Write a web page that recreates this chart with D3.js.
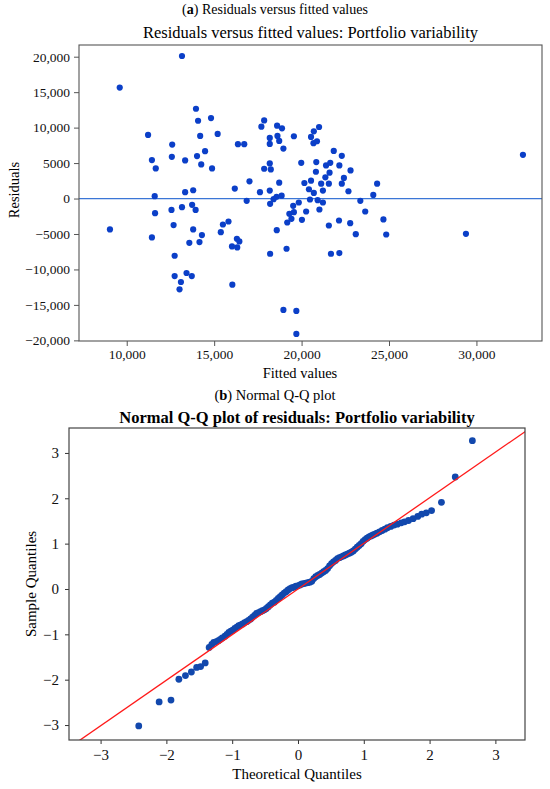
<!DOCTYPE html>
<html>
<head>
<meta charset="utf-8">
<script src="https://cdn.jsdelivr.net/npm/d3@7"></script>
<style>
    body { margin: 0; background: #ffffff; }
    svg { display: block; font-family: "Liberation Serif", "Times New Roman", serif; }
</style>
</head>
<body>
<svg width="550" height="789"></svg>
<script>
// Datos del panel (a): valores ajustados y residuos
const fittedValues = [
    13160, 9600, 11220, 11440, 11660, 11600, 12580, 12600, 13340, 13340,
    13800, 13960, 14080, 14200, 14020, 14260, 14480, 14820, 14880, 15200,
    16180, 16360, 16720, 17020, 17620, 17700, 17860, 17860, 18180, 18180,
    18180, 18240, 18180, 18600, 18620, 18720, 18720, 18880, 18960, 18570,
    18860, 19560, 19980, 20160, 20420, 20540, 20700, 20680, 20880, 21000,
    20540, 20700, 20840, 20820, 21120, 21220, 21400, 21360, 21600, 21640,
    21560, 21840, 22160, 22300, 22300, 22420, 22680, 22800, 24100, 24320,
    32660,
    16860, 11620, 12560, 13160, 13740, 13940, 9040, 11440, 12680, 13800,
    13580, 14160, 14300, 15380, 15500, 15820, 16020, 16300, 16440, 16320,
    12740, 12740, 13420, 13720, 13100, 13020, 16040, 18200, 18400, 18580,
    18200, 19140, 19180, 19300, 19420, 19520, 19560, 19840, 20020, 20260,
    20480, 20920, 21020, 21220, 21560, 21680, 22140, 22160, 22780, 23100,
    23360, 23640, 24680, 24840, 29400, 18960, 19700, 19700
];
const residuals = [
    20100, 15650, 8970, 5420, 4250, 330, 5880, 7610, 5370, 890,
    1170, 12660, 10970, 8830, 5980, 4810, 6680, 11350, 4250, 9110,
    1400, 7660, 7660, 2430, 890, 10130, 11020, 4200, 4950, 7700,
    8550, 4110, 1120, 10270, 8830, 8130, 2240, 9900, 7050, 250,
    400, 8780, 5040, 2190, 1310, 8690, 9480, 7800, 8080, 10090,
    2520, 790, 5140, 3780, 2100, 1120, 4670, 2990, 3640, 5040,
    2100, 6720, 4670, 6020, 2100, 2900, 1030, 3970, 510, 2100,
    6160,
    -330, -2060, -1600, -1220, -890, -1600, -4360, -5490, -3750, -4360,
    -6240, -6140, -5160, -4740, -3660, -3240, -6750, -5670, -6050, -6890,
    -8070, -10930, -10500, -10930, -11770, -12800, -12150, -750, -90, -4460,
    -7790, -7080, -3380, -2160, -2860, -1030, -1920, -560, -3000, -1830,
    -140, -230, -1550, -560, -3800, -7790, -3100, -7690, -3470, -5020,
    -330, -1830, -2950, -5070, -4970, -15710, -15850, -19090
];
const residTicks = [-20000, -15000, -10000, -5000, 0, 5000, 10000, 15000, 20000];
const residTickLabels = ["\u221220,000", "\u221215,000", "\u221210,000", "\u22125000", "0", "5000", "10,000", "15,000", "20,000"];
const fittedTicks = [10000, 15000, 20000, 25000, 30000];
const fittedTickLabels = ["10,000", "15,000", "20,000", "25,000", "30,000"];

// Datos del panel (b): cuantiles teóricos y muestrales
const theoreticalQ = [
    -2.42, -2.11, -1.93, -1.81, -1.71, -1.62, -1.54, -1.48, -1.41, -1.35,
    -1.31, -1.28, -1.24, -1.21, -1.18, -1.15, -1.11, -1.08, -1.05, -1.02,
    -0.99, -0.96, -0.93, -0.90, -0.87, -0.84, -0.81, -0.78, -0.75, -0.72,
    -0.69, -0.66, -0.63, -0.60, -0.57, -0.54, -0.51, -0.48, -0.45, -0.42,
    -0.39, -0.36, -0.33, -0.30, -0.27, -0.24, -0.21, -0.18, -0.15, -0.12,
    -0.09, -0.06, -0.03, 0.00, 0.03, 0.06, 0.09, 0.12, 0.15, 0.18,
    0.21, 0.24, 0.27, 0.30, 0.33, 0.36, 0.39, 0.42, 0.45, 0.48,
    0.51, 0.54, 0.57, 0.60, 0.63, 0.66, 0.69, 0.72, 0.75, 0.78,
    0.81, 0.84, 0.87, 0.90, 0.93, 0.96, 0.99, 1.02, 1.05, 1.08,
    1.11, 1.14, 1.17, 1.20, 1.24, 1.28, 1.32, 1.36, 1.41, 1.46,
    1.51, 1.57, 1.62, 1.68, 1.75, 1.82, 1.88, 1.95, 2.03, 2.18,
    2.39, 2.65
];
const sampleQ = [
    -3.02, -2.49, -2.45, -1.99, -1.91, -1.83, -1.73, -1.71, -1.63, -1.29,
    -1.22, -1.18, -1.16, -1.14, -1.11, -1.08, -1.04, -1.00, -0.96, -0.93,
    -0.91, -0.87, -0.84, -0.81, -0.79, -0.77, -0.74, -0.72, -0.69, -0.66,
    -0.62, -0.58, -0.54, -0.52, -0.50, -0.48, -0.46, -0.43, -0.39, -0.35,
    -0.31, -0.29, -0.25, -0.21, -0.17, -0.13, -0.09, -0.06, -0.02, 0.01,
    0.03, 0.04, 0.06, 0.07, 0.09, 0.11, 0.12, 0.13, 0.14, 0.15,
    0.17, 0.23, 0.27, 0.30, 0.32, 0.35, 0.38, 0.41, 0.45, 0.51,
    0.56, 0.60, 0.63, 0.67, 0.69, 0.71, 0.73, 0.75, 0.77, 0.79,
    0.81, 0.84, 0.88, 0.92, 0.96, 1.00, 1.05, 1.09, 1.12, 1.15,
    1.17, 1.19, 1.21, 1.23, 1.26, 1.29, 1.32, 1.35, 1.38, 1.41,
    1.43, 1.46, 1.48, 1.51, 1.55, 1.60, 1.65, 1.68, 1.73, 1.91,
    2.47, 3.27
];
const qqTicks = [-3, -2, -1, 0, 1, 2, 3];
const qqTickLabels = ["\u22123", "\u22122", "\u22121", "0", "1", "2", "3"];
// Línea de referencia (extremos)
const refLineX = [-3.6, 3.6];
const refLineY = [-3.62, 3.62];

const svg = d3.select("svg");

function panelA() {
    const left = 79, right = 542, top = 45, bottom = 341;

    const x = d3.scaleLinear().domain([7270, 33750]).range([left, right]);
    const y = d3.scaleLinear().domain([-20090, 21650]).range([bottom, top]);

    svg.append("text")
        .attr("x", 275).attr("y", 14)
        .attr("text-anchor", "middle")
        .style("font-size", "14px")
        .html('(<tspan font-weight="bold">a</tspan>) Residuals versus fitted values');

    svg.append("text")
        .attr("x", (left + right) / 2).attr("y", 38)
        .attr("text-anchor", "middle")
        .style("font-size", "16.5px")
        .text("Residuals versus fitted values: Portfolio variability");

    // ejes
    const yAxis = svg.append("g")
        .attr("transform", `translate(${left},0)`)
        .call(d3.axisLeft(y).tickValues(residTicks)
            .tickFormat((d, i) => residTickLabels[i])
            .tickSize(5).tickSizeOuter(0).tickPadding(4));
    yAxis.select(".domain").remove();
    yAxis.selectAll("line").attr("stroke", "#555");
    yAxis.selectAll("text").style("font-size", "13.5px").attr("fill", "#111")
        .style("font-family", "Liberation Serif");

    const xAxis = svg.append("g")
        .attr("transform", `translate(0,${bottom})`)
        .call(d3.axisBottom(x).tickValues(fittedTicks)
            .tickFormat((d, i) => fittedTickLabels[i])
            .tickSize(5).tickSizeOuter(0).tickPadding(3.5));
    xAxis.select(".domain").remove();
    xAxis.selectAll("line").attr("stroke", "#555");
    xAxis.selectAll("text").style("font-size", "13.5px").attr("fill", "#111")
        .style("font-family", "Liberation Serif");

    svg.append("text")
        .attr("x", 300).attr("y", 377.5)
        .attr("text-anchor", "middle")
        .style("font-size", "14.5px")
        .text("Fitted values");

    svg.append("text")
        .attr("transform", "translate(19,190) rotate(-90)")
        .attr("text-anchor", "middle")
        .style("font-size", "14.5px")
        .text("Residuals");

    // línea de cero
    svg.append("line")
        .attr("x1", left).attr("x2", right)
        .attr("y1", y(0)).attr("y2", y(0))
        .attr("stroke", "#3b76d6")
        .attr("stroke-width", 1.2);

    svg.append("g")
        .selectAll("circle")
        .data(fittedValues)
        .enter()
        .append("circle")
        .attr("cx", d => x(d))
        .attr("cy", (d, i) => y(residuals[i]))
        .attr("r", 3.1)
        .style("fill", "#0b3fc8");

    svg.append("rect")
        .attr("x", left).attr("y", top)
        .attr("width", right - left).attr("height", bottom - top)
        .attr("fill", "none")
        .attr("stroke", "#555")
        .attr("stroke-width", 1.1);
}

function panelB() {
    const left = 69, right = 525, top = 428, bottom = 740;

    const x = d3.scaleLinear().domain([-3.48, 3.45]).range([left, right]);
    const y = d3.scaleLinear().domain([-3.33, 3.55]).range([bottom, top]);

    svg.append("text")
        .attr("x", 275).attr("y", 400)
        .attr("text-anchor", "middle")
        .style("font-size", "14.5px")
        .html('(<tspan font-weight="bold">b</tspan>) Normal Q-Q plot');

    svg.append("text")
        .attr("x", (left + right) / 2).attr("y", 423)
        .attr("text-anchor", "middle")
        .style("font-size", "16.5px")
        .style("font-weight", "bold")
        .text("Normal Q-Q plot of residuals: Portfolio variability");

    const yAxis = svg.append("g")
        .attr("transform", `translate(${left},0)`)
        .call(d3.axisLeft(y).tickValues(qqTicks)
            .tickFormat((d, i) => qqTickLabels[i])
            .tickSize(4).tickSizeOuter(0).tickPadding(6));
    yAxis.select(".domain").remove();
    yAxis.selectAll("line").attr("stroke", "#333");
    yAxis.selectAll("text").style("font-size", "15px").attr("fill", "#111")
        .style("font-family", "Liberation Serif");

    const xAxis = svg.append("g")
        .attr("transform", `translate(0,${bottom})`)
        .call(d3.axisBottom(x).tickValues(qqTicks)
            .tickFormat((d, i) => qqTickLabels[i])
            .tickSize(4).tickSizeOuter(0).tickPadding(5));
    xAxis.select(".domain").remove();
    xAxis.selectAll("line").attr("stroke", "#333");
    xAxis.selectAll("text").style("font-size", "15px").attr("fill", "#111")
        .style("font-family", "Liberation Serif");

    svg.append("text")
        .attr("x", 297).attr("y", 779)
        .attr("text-anchor", "middle")
        .style("font-size", "15px")
        .text("Theoretical Quantiles");

    svg.append("text")
        .attr("transform", "translate(36,584) rotate(-90)")
        .attr("text-anchor", "middle")
        .style("font-size", "15px")
        .text("Sample Quantiles");

    svg.append("clipPath").attr("id", "clipQQ")
        .append("rect")
        .attr("x", left).attr("y", top)
        .attr("width", right - left).attr("height", bottom - top);

    const plot = svg.append("g").attr("clip-path", "url(#clipQQ)");

    plot.selectAll("circle")
        .data(theoreticalQ)
        .enter()
        .append("circle")
        .attr("cx", d => x(d))
        .attr("cy", (d, i) => y(sampleQ[i]))
        .attr("r", 3.4)
        .style("fill", "#1248ad");

    plot.append("path")
        .datum(refLineX)
        .attr("d", d3.line().x(d => x(d)).y((d, i) => y(refLineY[i])))
        .attr("fill", "none")
        .attr("stroke", "#ff1a1a")
        .attr("stroke-width", 1.3);

    svg.append("rect")
        .attr("x", left).attr("y", top)
        .attr("width", right - left).attr("height", bottom - top)
        .attr("fill", "none")
        .attr("stroke", "#444")
        .attr("stroke-width", 1.2);
}

panelA();
panelB();
</script>
</body>
</html>
